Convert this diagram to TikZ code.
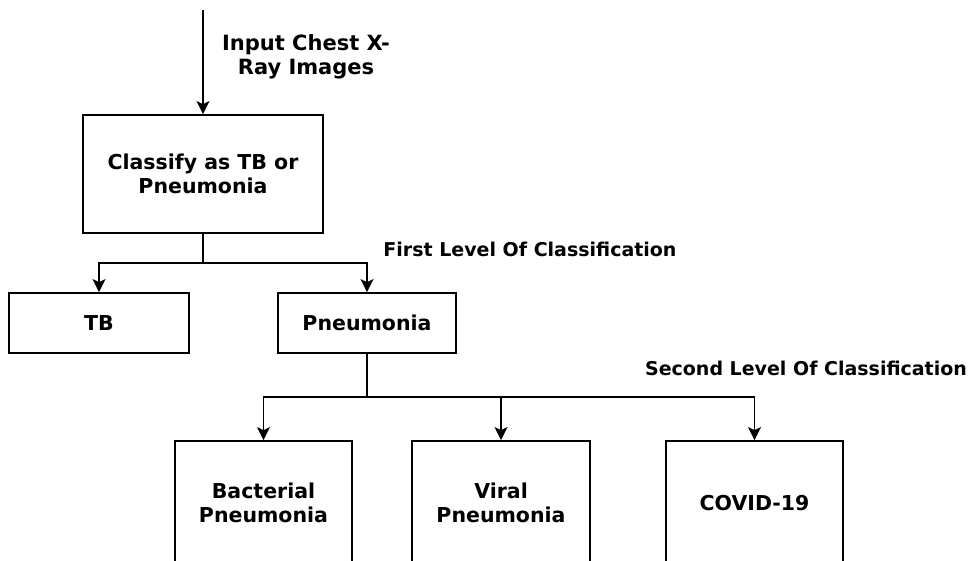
\documentclass[tikz,border=0pt]{standalone}
\usepackage{fontspec}
\setmainfont{DejaVu Sans}
\usetikzlibrary{arrows.meta}
\begin{document}
\begin{tikzpicture}[x=1pt,y=-1pt,
  box/.style={draw,line width=1.8pt,align=center,inner sep=0pt,font=\boxtxt},
  arr/.style={line width=1.8pt,-{Stealth[length=13pt,width=13pt,inset=3pt]}},
  conn/.style={line width=1.8pt},
  lbl/.style={align=center,font=\txt,inner sep=0pt}]
\newcommand{\txt}{\fontsize{19}{24}\selectfont\bfseries}
\newcommand{\boxtxt}{\fontsize{20.5}{23.5}\selectfont\bfseries}
\newcommand{\toptxt}{\fontsize{21}{24.5}\selectfont\bfseries}
\useasboundingbox (0,0) rectangle (968,561);
\clip (0,0) rectangle (968,561);
\fill[white] (0,0) rectangle (968,561);
\node[box,minimum width=240pt,minimum height=118pt] (c1) at (203,174) {Classify as TB or\\Pneumonia};
\node[box,minimum width=180pt,minimum height=60pt] (tb) at (99,323) {TB};
\node[box,minimum width=178pt,minimum height=60pt] (pn) at (367,323) {Pneumonia};
\node[box,minimum width=177pt,minimum height=124pt] (bp) at (263.5,503) {Bacterial\\Pneumonia};
\node[box,minimum width=178pt,minimum height=124pt] (vp) at (501,503) {Viral\\Pneumonia};
\node[box,minimum width=177pt,minimum height=124pt] (cv) at (754.5,503) {COVID-19};
\coordinate (start) at (203,10);
\coordinate (j1) at (203,263);
\coordinate (j2) at (367,397);
\draw[arr] (start) -- (c1.north);
\draw[conn] (c1.south) -- (j1);
\draw[arr] (j1) -| (tb.north);
\draw[arr] (j1) -| (pn.north);
\draw[conn] (pn.south) -- (j2);
\draw[arr] (j2) -| (bp.north);
\draw[arr] (j2) -| (vp.north);
\draw[arr] (j2) -| (cv.north);
\node[lbl,font=\toptxt] (l1) at (306,57) {Input Chest X-\\Ray Images};
\node[lbl] (l2) at (530,249) {First Level Of Classification};
\node[lbl] (l3) at (806,368) {Second Level Of Classification};
\end{tikzpicture}
\end{document}
